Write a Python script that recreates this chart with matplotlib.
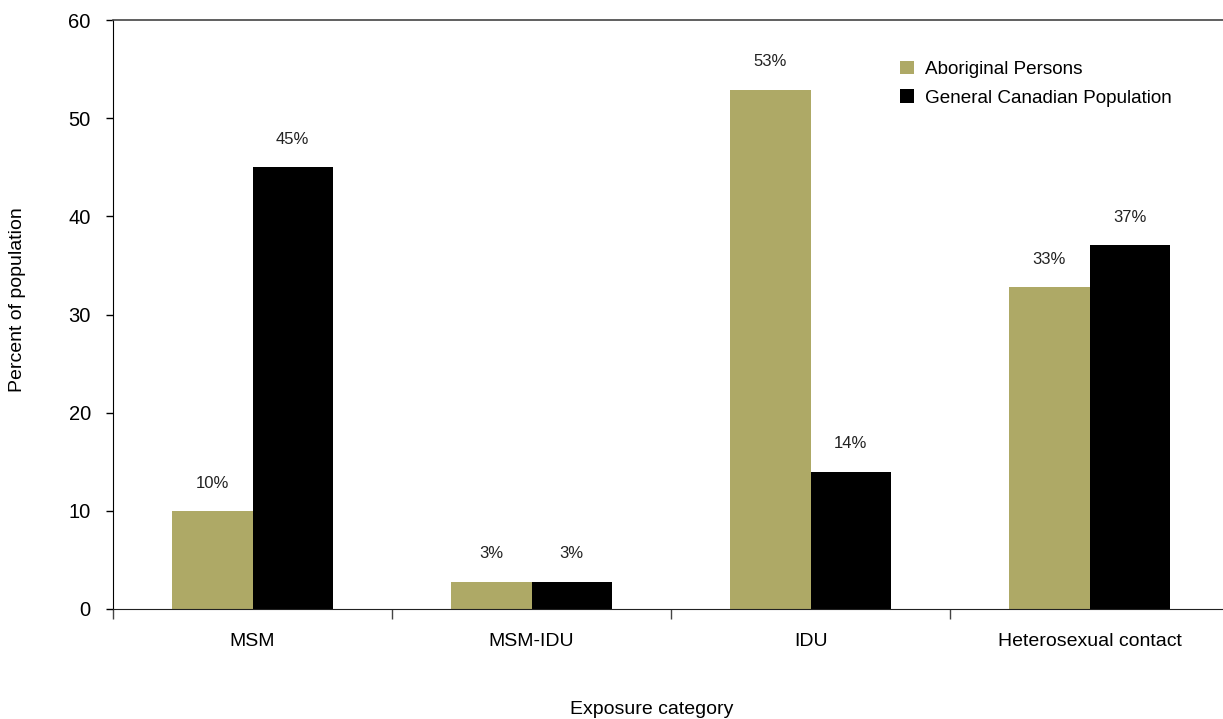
import numpy as np
import matplotlib
matplotlib.use('Agg')
import matplotlib.pyplot as plt

plt.rcParams['font.family'] = ['Liberation Sans', 'DejaVu Sans']

categories = ['MSM', 'MSM-IDU', 'IDU', 'Heterosexual contact']
aboriginal = [10, 2.8, 52.9, 32.8]
general = [45, 2.8, 14, 37.1]
aboriginal_labels = ['10%', '3%', '53%', '33%']
general_labels = ['45%', '3%', '14%', '37%']
series_names = ['Aboriginal Persons', 'General Canadian Population']

olive = '#aea966'
width = 0.287

fig = plt.figure(figsize=(12.23, 7.19), dpi=100)
ax = fig.add_axes([113 / 1223, 1 - 609 / 719, (1229 - 113) / 1223, (609 - 20) / 719])

x = np.arange(len(categories))
b1 = ax.bar(x - width / 2, aboriginal, width, color=olive, label=series_names[0])
b2 = ax.bar(x + width / 2, general, width, color='black', label=series_names[1])

for bars, labels in ((b1, aboriginal_labels), (b2, general_labels)):
    for rect, lab in zip(bars, labels):
        ax.annotate(lab, (rect.get_x() + rect.get_width() / 2, rect.get_height()),
                    xytext=(0, 20), textcoords='offset points',
                    ha='center', va='center', fontsize=12, color='#222222')

ax.set_xlim(-0.5, len(categories) - 0.5)
ax.set_ylim(0, 60)
ax.set_yticks(range(0, 61, 10))
ax.tick_params(axis='y', labelsize=14.5, length=5, width=1, pad=11)

# category boundary ticks, labels in the middle
ax.set_xticks(np.arange(len(categories) + 1) - 0.5)
ax.set_xticklabels([])
ax.set_xticks(x, minor=True)
ax.set_xticklabels(categories, minor=True, fontsize=14)
ax.tick_params(axis='x', which='major', length=7, width=1, color='#444444')
ax.tick_params(axis='x', which='minor', length=0, pad=17)

ax.spines['right'].set_visible(False)
ax.spines['top'].set_color('#444444')
ax.spines['top'].set_linewidth(1.2)
ax.spines['bottom'].set_color('#222222')
ax.spines['left'].set_color('black')

fig.text(652 / 1223, 1 - 710 / 719, 'Exposure category', ha='center', va='center', fontsize=14)
fig.text(18 / 1223, 1 - 300 / 719, 'Percent of population', ha='center', va='center',
         rotation=90, fontsize=14)

ax.legend(loc='upper left', bbox_to_anchor=(0.690, 0.960), frameon=False, fontsize=13.6,
          handlelength=0.75, handleheight=0.75, handletextpad=0.55, labelspacing=0.6)

fig.savefig('out.png', dpi=100)
